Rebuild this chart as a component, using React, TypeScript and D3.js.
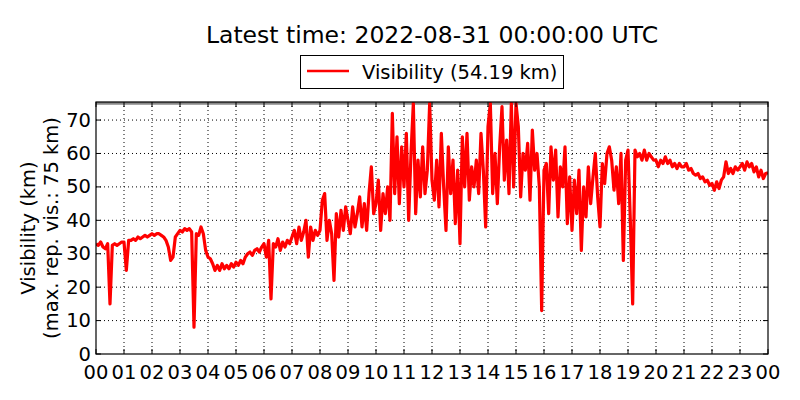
import React from "react";
import * as d3 from "d3";

// Visibility (km), one value every 5 minutes, grouped by hour (UTC)
const h00 = [33, 32.5, 33.5, 32, 31.5, 33, 15, 32.5, 33, 32.5, 33, 33.5];
const h01 = [33.5, 25, 34, 34, 34.5, 34, 35, 34.5, 35, 35.5, 35, 35.5];
const h02 = [36, 35.5, 36, 36, 35.5, 35, 34, 32, 28, 29, 35, 36];
const h03 = [37, 36.5, 37.5, 37, 37.5, 36.5, 8, 36, 35.5, 38, 36, 31];
const h04 = [29, 28.5, 27, 25, 26.5, 25, 27, 25.5, 26.5, 25.5, 27, 26];
const h05 = [27.5, 26.5, 28, 27, 29, 30, 30.5, 29.5, 31, 31.5, 30.5, 32];
const h06 = [33, 29, 34, 16.5, 33, 32, 34.5, 31, 33.5, 32, 34, 33];
const h07 = [35, 37, 33, 38, 34, 36.5, 40, 29, 38, 34, 37, 35.5];
const h08 = [37, 46, 48, 34, 40, 36, 22, 42, 35, 43, 37, 44];
const h09 = [40, 36, 44, 38, 42, 47, 38, 45, 37, 48, 56, 42];
const h10 = [45, 52, 37, 48, 42, 50, 40, 72, 48, 65, 45, 62];
const h11 = [50, 66, 40, 60, 75, 42, 58, 47, 62, 48, 55, 75];
const h12 = [52, 46, 58, 44, 66, 50, 37, 62, 48, 58, 39, 55];
const h13 = [33, 65, 50, 66, 46, 56, 50, 58, 48, 66, 55, 38];
const h14 = [68, 75, 48, 60, 45, 62, 74, 52, 64, 48, 75, 50];
const h15 = [75, 68, 47, 60, 55, 63, 46, 67, 55, 60, 50, 13];
const h16 = [55, 57, 42, 62, 52, 61, 41, 56, 50, 62, 39, 53];
const h17 = [37, 52, 42, 55, 31, 50, 41, 56, 45, 53, 60, 47];
const h18 = [38, 57, 51, 60, 62, 58, 49, 56, 45, 60, 28, 58];
const h19 = [61, 40, 15, 61, 59, 60, 58, 61, 58, 60, 59, 58];
const h20 = [58, 56, 58, 57, 59, 57, 58, 56, 57, 55.5, 57, 56];
const h21 = [56, 57, 55, 55.5, 54, 53.5, 54, 52.5, 53, 51.5, 52, 50.5];
const h22 = [51, 49, 51.5, 49.5, 52, 53, 57.5, 54, 55.5, 54, 56, 55];
const h23 = [56, 57, 55, 57.5, 56, 57, 54.5, 56, 53, 55, 52.5, 54];
const lastValue = 54.19;

const hourly = [h00, h01, h02, h03, h04, h05, h06, h07, h08, h09, h10, h11, h12, h13, h14, h15, h16, h17, h18, h19, h20, h21, h22, h23];

const xTickLabels = ["00","01","02","03","04","05","06","07","08","09","10","11","12","13","14","15","16","17","18","19","20","21","22","23","00"];
const yTicks = [0, 10, 20, 30, 40, 50, 60, 70];
const maxVis = 75;
const title = "Latest time: 2022-08-31 00:00:00 UTC";
const legendLabel = `Visibility (${lastValue.toFixed(2)} km)`;

type Pt = { t: number; v: number };
const points: Pt[] = [];
hourly.forEach((arr, h) => arr.forEach((v, i) => points.push({ t: h + (i * 5) / 60, v })));
points.push({ t: 24, v: lastValue });

export default function App() {
  const W = 800, H = 400;
  const L = 96, R = 768, T = 102, B = 354;
  const x = d3.scaleLinear().domain([0, 24]).range([L, R]);
  const y = d3.scaleLinear().domain([0, 75.4]).range([B, T]);
  const line = d3.line<Pt>().x(d => x(d.t)).y(d => y(d.v));
  const font = "DejaVu Sans, sans-serif";
  const fs = 19.5;
  const xt = d3.range(0, 25);
  return (
    <svg width={W} height={H} style={{ position: "absolute", left: 0, top: 0, background: "#fff" }} fontFamily={font}>
      <rect x={0} y={0} width={W} height={H} fill="#fff" />
      <defs>
        <clipPath id="plotclip"><rect x={L} y={T} width={R - L} height={B - T} /></clipPath>
      </defs>
      <text x={(L + R) / 2} y={43} textAnchor="middle" fontSize={23.5}>{title}</text>
      {/* grid */}
      {xt.slice(1, -1).map(t => (
        <line key={"gx" + t} x1={x(t)} x2={x(t)} y1={T} y2={B} stroke="#000" strokeWidth={1} strokeDasharray="1,3" />
      ))}
      {yTicks.slice(1).map(v => (
        <line key={"gy" + v} x1={L} x2={R} y1={y(v)} y2={y(v)} stroke="#000" strokeWidth={1} strokeDasharray="1,3" />
      ))}
      <g clipPath="url(#plotclip)">
        <line x1={L} x2={R} y1={y(maxVis)} y2={y(maxVis)} stroke="#888" strokeWidth={3} />
        <path d={line(points) || ""} fill="none" stroke="#ff0000" strokeWidth={3.2} strokeLinejoin="round" />
      </g>
      {/* ticks */}
      {xt.map(t => (
        <g key={"tx" + t}>
          <line x1={x(t)} x2={x(t)} y1={B} y2={B - 5} stroke="#000" />
          <line x1={x(t)} x2={x(t)} y1={T} y2={T + 5} stroke="#000" />
          <text x={x(t)} y={379} textAnchor="middle" fontSize={fs}>{xTickLabels[t]}</text>
        </g>
      ))}
      {yTicks.map(v => (
        <g key={"ty" + v}>
          <line x1={L} x2={L + 5} y1={y(v)} y2={y(v)} stroke="#000" />
          <line x1={R} x2={R - 5} y1={y(v)} y2={y(v)} stroke="#000" />
          <text x={91} y={y(v) + 6.5} textAnchor="end" fontSize={fs}>{v}</text>
        </g>
      ))}
      <rect x={L} y={T} width={R - L} height={B - T} fill="none" stroke="#000" strokeWidth={1.2} />
      <g transform={`translate(0,${(T + B) / 2}) rotate(-90)`}>
        <text x={0} y={35} textAnchor="middle" fontSize={fs}>Visibility (km)</text>
        <text x={0} y={58} textAnchor="middle" fontSize={fs}>(max. rep. vis.: 75 km)</text>
      </g>
      {/* legend */}
      <rect x={300.5} y={55.5} width={263} height={33} fill="#fff" stroke="#000" strokeWidth={1} />
      <line x1={307} x2={349} y1={71} y2={71} stroke="#ff0000" strokeWidth={2.6} />
      <text x={362} y={78.5} fontSize={fs}>{legendLabel}</text>
    </svg>
  );
}
